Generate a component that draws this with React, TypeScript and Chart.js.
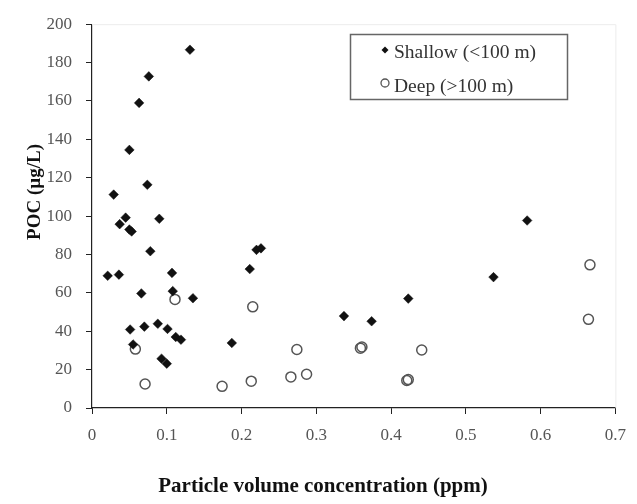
import React, { useEffect, useRef } from "react";
import { Chart, registerables } from "chart.js";

Chart.register(...registerables);

const shallowX = [0.131, 0.076, 0.063, 0.05, 0.074, 0.029, 0.045, 0.09, 0.037, 0.05, 0.053, 0.078, 0.021, 0.036, 0.107, 0.066, 0.108, 0.135, 0.051, 0.07, 0.088, 0.101, 0.112, 0.119, 0.055, 0.093, 0.1, 0.187, 0.211, 0.22, 0.226, 0.337, 0.374, 0.423, 0.537, 0.582];
const shallowY = [186.7, 172.8, 159, 134.5, 116.3, 111.2, 99.2, 98.6, 95.8, 93.0, 92.0, 81.7, 68.9, 69.5, 70.4, 59.7, 60.9, 57.2, 40.9, 42.4, 43.9, 41.2, 37.0, 35.6, 33.1, 25.7, 23.1, 33.9, 72.4, 82.4, 83.2, 47.9, 45.2, 57.0, 68.2, 97.7];

const deepX = [0.058, 0.071, 0.111, 0.174, 0.213, 0.215, 0.266, 0.287, 0.274, 0.359, 0.361, 0.421, 0.423, 0.441, 0.664, 0.666];
const deepY = [30.7, 12.5, 56.6, 11.3, 14.0, 52.7, 16.2, 17.6, 30.5, 31.2, 31.8, 14.3, 14.8, 30.2, 46.2, 74.6];

const seriesLabels = ["Shallow (<100 m)", "Deep (>100 m)"];
const xTitle = "Particle volume concentration (ppm)";
const yTitle = "POC (µg/L)";

const FONT = "'Liberation Serif', 'DejaVu Serif', serif";

const decorPlugin = {
  id: "decor",
  beforeDatasetsDraw(chart: any) {
    const { ctx, chartArea } = chart;
    ctx.save();
    ctx.strokeStyle = "#ececec";
    ctx.lineWidth = 1;
    ctx.beginPath();
    ctx.moveTo(chartArea.left, chartArea.top + 0.5);
    ctx.lineTo(chartArea.right + 0.5, chartArea.top + 0.5);
    ctx.lineTo(chartArea.right + 0.5, chartArea.bottom);
    ctx.stroke();
    ctx.restore();
  },
  afterDraw(chart: any) {
    const { ctx } = chart;
    ctx.save();
    // axis titles
    ctx.fillStyle = "#111";
    ctx.textAlign = "center";
    ctx.textBaseline = "middle";
    ctx.font = `bold 21px ${FONT}`;
    ctx.fillText(xTitle, 323, 487);
    ctx.font = `bold 19px ${FONT}`;
    ctx.save();
    ctx.translate(35, 192);
    ctx.rotate(-Math.PI / 2);
    ctx.fillText(yTitle, 0, 0);
    ctx.restore();

    // legend
    ctx.strokeStyle = "#666";
    ctx.lineWidth = 1.5;
    ctx.strokeRect(350.5, 34.5, 217, 65);
    ctx.fillStyle = "#111";
    ctx.beginPath();
    const lx = 385, ly1 = 50, ly2 = 83;
    ctx.moveTo(lx - 3.5, ly1);
    ctx.lineTo(lx, ly1 - 3.5);
    ctx.lineTo(lx + 3.5, ly1);
    ctx.lineTo(lx, ly1 + 3.5);
    ctx.closePath();
    ctx.fill();
    ctx.strokeStyle = "#555";
    ctx.lineWidth = 1.3;
    ctx.beginPath();
    ctx.arc(lx, ly2, 4, 0, Math.PI * 2);
    ctx.stroke();
    ctx.fillStyle = "#333";
    ctx.font = `19.5px ${FONT}`;
    ctx.textAlign = "left";
    ctx.textBaseline = "middle";
    ctx.fillText(chart.data.datasets[0].label, 394, 53);
    ctx.fillText(chart.data.datasets[1].label, 394, 87);
    ctx.restore();
  },
};

export default function App() {
  const ref = useRef<HTMLCanvasElement>(null);
  useEffect(() => {
    document.body.style.margin = "0";
    const canvas = ref.current;
    if (!canvas) return;
    const chart = new Chart(canvas, {
      type: "scatter",
      data: {
        datasets: [
          {
            label: seriesLabels[0],
            data: shallowX.map((x, i) => ({ x, y: shallowY[i] })),
            pointStyle: "rectRot",
            pointRadius: 4.8,
            backgroundColor: "#111",
            borderColor: "#111",
            borderWidth: 0.5,
          },
          {
            label: seriesLabels[1],
            data: deepX.map((x, i) => ({ x, y: deepY[i] })),
            pointStyle: "circle",
            pointRadius: 5,
            backgroundColor: "rgba(255,255,255,0)",
            borderColor: "#555",
            borderWidth: 1.5,
          },
        ],
      },
      options: {
        responsive: false,
        animation: false,
        layout: { padding: { top: 14, right: 15, left: 0, bottom: 0 } },
        plugins: { legend: { display: false }, tooltip: { enabled: false } },
        scales: {
          x: {
            type: "linear",
            min: 0,
            max: 0.7,
            afterFit(scale: any) {
              scale.height = 96;
            },
            ticks: {
              stepSize: 0.1,
              color: "#555",
              font: { family: FONT, size: 17 },
              padding: 11,
              callback: (v: any) => (v === 0 ? "0" : Number(v).toFixed(1)),
            },
            grid: { display: true, drawOnChartArea: false, drawTicks: true, tickLength: 6, color: "#222" },
            border: { display: true, color: "#222", width: 1.2 },
          },
          y: {
            type: "linear",
            min: 0,
            max: 200,
            afterFit(scale: any) {
              scale.width = 92;
            },
            ticks: {
              stepSize: 20,
              color: "#555",
              font: { family: FONT, size: 17 },
              padding: 14,
            },
            grid: { display: true, drawOnChartArea: false, drawTicks: true, tickLength: 6, color: "#222" },
            border: { display: true, color: "#222", width: 1.2 },
          },
        },
      },
      plugins: [decorPlugin],
    } as any);
    return () => chart.destroy();
  }, []);
  return (
    <div style={{ width: 637, height: 504 }}>
      <canvas ref={ref} width={637} height={504} />
    </div>
  );
}
